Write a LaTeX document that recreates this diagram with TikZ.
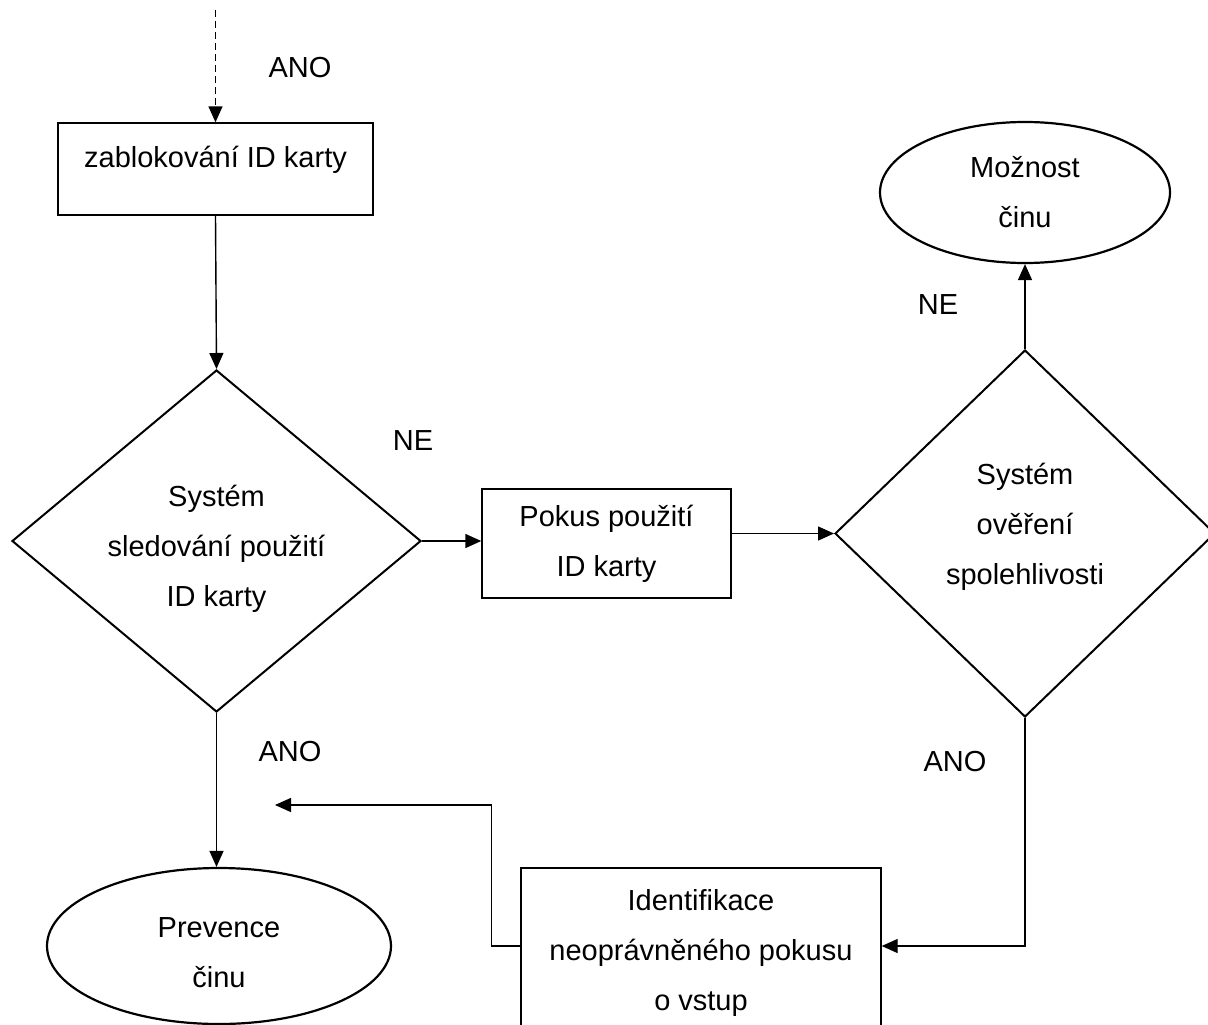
\documentclass[tikz,border=0pt]{standalone}
\usepackage{fontspec}
\setmainfont{Liberation Sans}
\usetikzlibrary{shapes.geometric,arrows.meta}
\begin{document}
\begin{tikzpicture}[x=1pt,y=-1pt,
  every node/.style={font=\fontsize{29}{50}\selectfont, inner sep=0pt},
  box/.style={draw, line width=1.4pt, rectangle, align=center},
  dia/.style={draw, line width=2pt, diamond},
  ell/.style={draw, line width=2.2pt, ellipse},
  txt/.style={align=center},
  conn/.style={line width=1.4pt, -{Triangle[length=16pt,width=14pt]}},
  dashline/.style={dash pattern=on 7pt off 4pt}]
\useasboundingbox (0,0) rectangle (1208,1025);

% shapes
\node[box, minimum width=315pt, text height=44pt, text depth=48pt] (b1) at (215.5,169) {zablokování ID karty};
\node[dia, minimum width=409pt, minimum height=342pt] (d1) at (216.5,541) {};
\node[txt] (d1t) at (216.5,548.5) {Systém\\sledování použití\\ID karty};
\node[box, minimum width=249pt, minimum height=109pt] (b2) at (606.5,543.5) {Pokus použití\\ID karty};
\node[dia, minimum width=380pt, minimum height=367pt] (d2) at (1025,533.5) {};
\node[txt] (d2t) at (1025,526.5) {Systém\\ověření\\spolehlivosti};
\node[ell, minimum width=290pt, minimum height=141pt, align=center] (m) at (1025,192.5) {Možnost\\činu};
\node[ell, minimum width=344pt, minimum height=156pt] (p) at (219,946) {};
\node[txt] (pt) at (219,953) {Prevence\\činu};
\node[draw, line width=1.4pt, rectangle, minimum width=360pt, minimum height=162pt] (b3) at (701,949) {};
\node[txt] (b3t) at (701,953) {Identifikace\\neoprávněného pokusu\\o vstup};

% labels
\node (l1) at (300,68) {ANO};
\node (l2) at (413,441) {NE};
\node (l3) at (938,305) {NE};
\node (l4) at (290,752) {ANO};
\node (l5) at (955,762) {ANO};

% free ends
\coordinate (top) at (215.5,10);
\coordinate (fb) at (275,805);

% connectors
\draw[conn, dashline] (top) -- (b1.north);
\draw[conn] (b1.south) -- (d1.north);
\draw[conn] (d1.east) -- (d1.east -| b2.west);
\draw[conn] (b2.east |- d2.west) -- (d2.west);
\draw[conn] (d2.north) -- (m.south);
\draw[conn] (d1.south) -- (d1.south |- p.north);
\draw[conn] (d2.south) |- ([yshift=3pt]b3.east);
\draw[conn] ([yshift=3pt]b3.west) -- ++(-29,0) |- (fb);
\end{tikzpicture}
\end{document}
